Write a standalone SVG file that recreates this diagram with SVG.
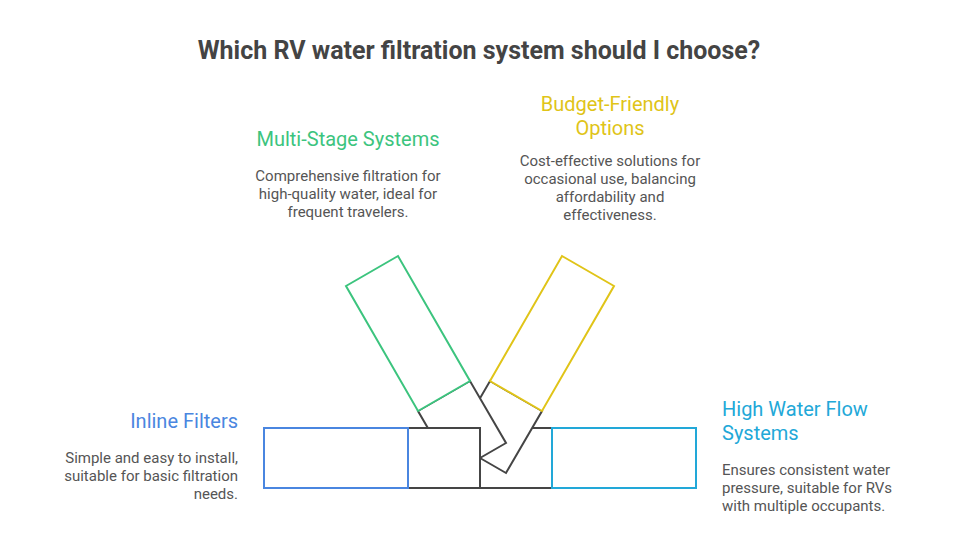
<svg xmlns="http://www.w3.org/2000/svg" width="960" height="552" viewBox="0 0 960 552">
<style>
text{font-family:Roboto,"Liberation Sans",sans-serif}
.title{font-size:25px;font-weight:bold;fill:#444444}
.h{font-size:20px}
.d{font-size:15px;fill:#555555}
.dk{fill:#ffffff;stroke:#454545;stroke-width:2;stroke-linejoin:miter}
.c{fill:#ffffff;stroke-width:2}
</style>
<rect width="960" height="552" fill="#ffffff"/>
<text class="title" x="479" y="59" text-anchor="middle">Which RV water filtration system should I choose?</text>
<g id="connectors">
<rect class="dk" x="480" y="428" width="72" height="60"/>
<polygon class="dk" points="490,381 542,411 506,473 454,443"/>
<polygon class="dk" points="418,411 470,381 506,443 454,473"/>
<rect class="dk" x="408" y="428" width="72" height="60"/>
</g>
<g id="inline-filters">
<rect class="c" x="264" y="428" width="144" height="60" stroke="#4a86e0"/>
<text class="h" x="238" y="428" text-anchor="end" fill="#4a86e0">Inline Filters</text>
<text class="d" text-anchor="end"><tspan x="238" y="463">Simple and easy to install,</tspan><tspan x="238" y="481">suitable for basic filtration</tspan><tspan x="238" y="499">needs.</tspan></text>
</g>
<g id="high-water-flow">
<rect class="c" x="552" y="428" width="144" height="60" stroke="#22a8d8"/>
<text class="h" fill="#22a8d8"><tspan x="722" y="416">High Water Flow</tspan><tspan x="722" y="440">Systems</tspan></text>
<text class="d"><tspan x="722" y="475">Ensures consistent water</tspan><tspan x="722" y="493">pressure, suitable for RVs</tspan><tspan x="722" y="511">with multiple occupants.</tspan></text>
</g>
<g id="multi-stage">
<polygon class="c" points="346,286 398,256 470,381 418,411" stroke="#3cc47e"/>
<text class="h" x="348" y="146" text-anchor="middle" fill="#3cc47e">Multi-Stage Systems</text>
<text class="d" text-anchor="middle"><tspan x="348" y="181">Comprehensive filtration for</tspan><tspan x="348" y="199">high-quality water, ideal for</tspan><tspan x="348" y="217">frequent travelers.</tspan></text>
</g>
<g id="budget-friendly">
<polygon class="c" points="490,381 562,256 614,286 542,411" stroke="#e0c418"/>
<text class="h" text-anchor="middle" fill="#e0c418"><tspan x="610" y="111">Budget-Friendly</tspan><tspan x="610" y="135">Options</tspan></text>
<text class="d" text-anchor="middle"><tspan x="610" y="166">Cost-effective solutions for</tspan><tspan x="610" y="184">occasional use, balancing</tspan><tspan x="610" y="202">affordability and</tspan><tspan x="610" y="220">effectiveness.</tspan></text>
</g>
</svg>
